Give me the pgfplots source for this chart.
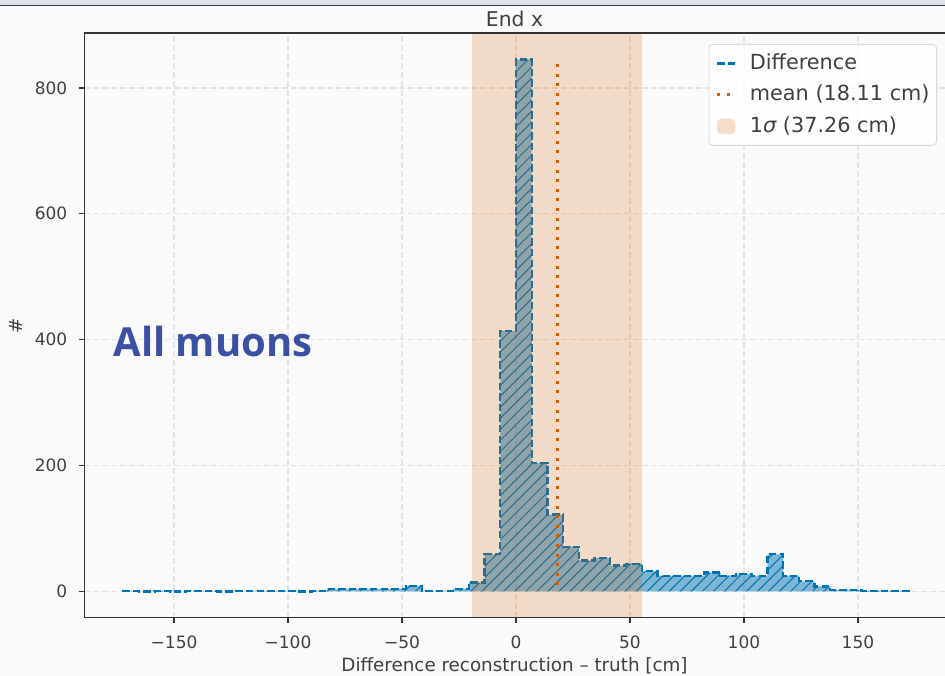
\documentclass[border=0pt]{standalone}
\usepackage{fontspec}
\setmainfont{DejaVu Sans}
\newfontfamily\osans{Open Sans}
\usepackage{pgfplots}
\pgfplotsset{compat=1.18}
\usetikzlibrary{patterns.meta}
\definecolor{bgc}{HTML}{FAFAFA}
\definecolor{cblue}{HTML}{0173B2}
\definecolor{corange}{HTML}{D55E00}
\definecolor{bandleg}{HTML}{F5DDCA}
\definecolor{gridc}{HTML}{E3E3E3}
\definecolor{spinec}{HTML}{333333}
\definecolor{textc}{HTML}{404040}
\definecolor{muonc}{HTML}{3B4FA3}
\definecolor{stripc}{HTML}{DEE2E6}
\definecolor{stripline}{HTML}{2B3A55}
\begin{document}
\begin{tikzpicture}
\useasboundingbox (0bp,0bp) rectangle (945bp,676bp);
\fill[bgc] (0bp,0bp) rectangle (945bp,676bp);
\fill[stripc] (0bp,671bp) rectangle (945bp,676bp);
\draw[stripline, line width=1.4bp] (0bp,670.3bp) -- (945bp,670.3bp);
\begin{axis}[
  at={(84bp,58bp)}, anchor=south west,
  scale only axis, width=861bp, height=585bp,
  xmin=-189.5, xmax=188.19, ymin=-42.25, ymax=887.25,
  axis line style={draw=none},
  tick align=outside, tick pos=left,
  major tick length=5bp,
  tick style={spinec, line width=1.2bp},
  xtick={-150,-100,-50,0,50,100,150},
  xticklabels={−150,−100,−50,0,50,100,150},
  ytick={0,200,400,600,800},
  yticklabels={0,200,400,600,800},
  ticklabel style={font=\fontsize{17bp}{20bp}\selectfont, text=textc, inner sep=0bp},
  xticklabel style={anchor=base, yshift=-26bp},
  yticklabel style={anchor=east, xshift=-11.5bp},
  grid=major,
  major grid style={gridc, line width=1.2bp, dash pattern=on 5.5bp off 3.5bp},
  xlabel={Difference reconstruction – truth [cm]},
  ylabel={\#},
  label style={font=\fontsize{18.3bp}{22bp}\selectfont, text=textc, inner sep=0bp},
  xlabel style={at={(axis description cs:0.5,-0.09145)}, anchor=base},
  ylabel style={at={(axis description cs:-0.0793,0.5)}, anchor=center},
  title={End x},
  title style={at={(axis description cs:0.5,1.0010)}, anchor=base, font=\fontsize{20.3bp}{24bp}\selectfont, text=textc, inner sep=0bp},
  legend style={
    at={(0.99071,0.98120)}, anchor=north east,
    draw=black!15, line width=0.8bp, rounded corners=4bp,
    fill=white, fill opacity=0.8, text opacity=1,
    font=\fontsize{20.8bp}{24bp}\selectfont, text=textc,
    inner xsep=7bp, inner ysep=9bp,
    row sep=11.5bp,
    nodes={inner sep=0bp, text height=16bp, text depth=4bp},
    /tikz/every odd column/.append style={column sep=13bp},
  },
  legend cell align=left,
]
\addlegendimage{legend image code/.code={\draw[cblue, line width=2.3bp, dash pattern=on 7.4bp off 3.2bp] (0bp,0bp) -- (18bp,0bp);}}
\addlegendentry{Difference}
\addlegendimage{legend image code/.code={\draw[corange, line width=3bp, dash pattern=on 3bp off 6.6bp] (0bp,0bp) -- (18bp,0bp);}}
\addlegendentry{mean (18.11 cm)}
\addlegendimage{legend image code/.code={\fill[bandleg, fill opacity=1] (0bp,-7.3bp) rectangle (17.5bp,7.3bp);}}
\addlegendentry{1{\itshape σ} (37.26 cm)}

% histogram fill with hatch
\addplot[forget plot, draw=none, fill=cblue, fill opacity=0.5, const plot mark left,
  postaction={pattern={Lines[angle=45,distance=7.8bp,line width=1bp]}, pattern color=cblue}]
coordinates {
(-172.30,1) (-165.41,0) (-158.52,1) (-151.62,0) (-144.73,1) (-137.84,1) (-130.95,0) (-124.06,1)
(-117.16,1) (-110.27,1) (-103.38,1) (-96.49,0) (-89.60,1) (-82.70,4) (-75.81,4) (-68.92,4)
(-62.03,4) (-55.14,4) (-48.24,9) (-41.35,1) (-34.46,1) (-27.57,4) (-20.68,14) (-13.78,59)
(-6.89,414) (0.00,845) (6.89,204) (13.78,122) (20.68,71) (27.57,49) (34.46,53) (41.35,41)
(48.24,44) (55.14,32) (62.03,25) (68.92,25) (75.81,25) (82.70,30) (89.60,25) (96.49,28)
(103.38,25) (110.27,59) (117.16,25) (124.06,16) (130.95,8) (137.84,2) (144.73,2) (151.62,1)
(158.52,1) (165.41,1) (172.30,1)
} \closedcycle;
% histogram outline
\addplot[forget plot, cblue, line width=2.3bp, dash pattern=on 7.4bp off 3.2bp, const plot mark left]
coordinates {
(-172.30,0) (-172.30,1) (-165.41,0) (-158.52,1) (-151.62,0) (-144.73,1) (-137.84,1) (-130.95,0) (-124.06,1)
(-117.16,1) (-110.27,1) (-103.38,1) (-96.49,0) (-89.60,1) (-82.70,4) (-75.81,4) (-68.92,4)
(-62.03,4) (-55.14,4) (-48.24,9) (-41.35,1) (-34.46,1) (-27.57,4) (-20.68,14) (-13.78,59)
(-6.89,414) (0.00,845) (6.89,204) (13.78,122) (20.68,71) (27.57,49) (34.46,53) (41.35,41)
(48.24,44) (55.14,32) (62.03,25) (68.92,25) (75.81,25) (82.70,30) (89.60,25) (96.49,28)
(103.38,25) (110.27,59) (117.16,25) (124.06,16) (130.95,8) (137.84,2) (144.73,2) (151.62,1)
(158.52,1) (165.41,1) (172.30,1) (172.30,0)
};
% 1 sigma band
\addplot[forget plot, draw=none, fill=corange, fill opacity=0.2]
coordinates {(-19.15,-100) (-19.15,1000) (55.37,1000) (55.37,-100)} -- cycle;
% mean
\addplot[forget plot, corange, line width=3bp, dash pattern=on 3bp off 6.6bp]
coordinates {(18.11,838) (18.11,0)};
\node[anchor=base west, inner sep=0bp, text=muonc, font=\osans\bfseries\fontsize{40bp}{48bp}\selectfont]
  at (axis cs:-176.6,372.5) {All muons};
\draw[spinec, line width=1.2bp] (rel axis cs:1,1) -- (rel axis cs:0,1) -- (rel axis cs:0,0) -- (rel axis cs:1,0);
\end{axis}
\end{tikzpicture}
\end{document}
